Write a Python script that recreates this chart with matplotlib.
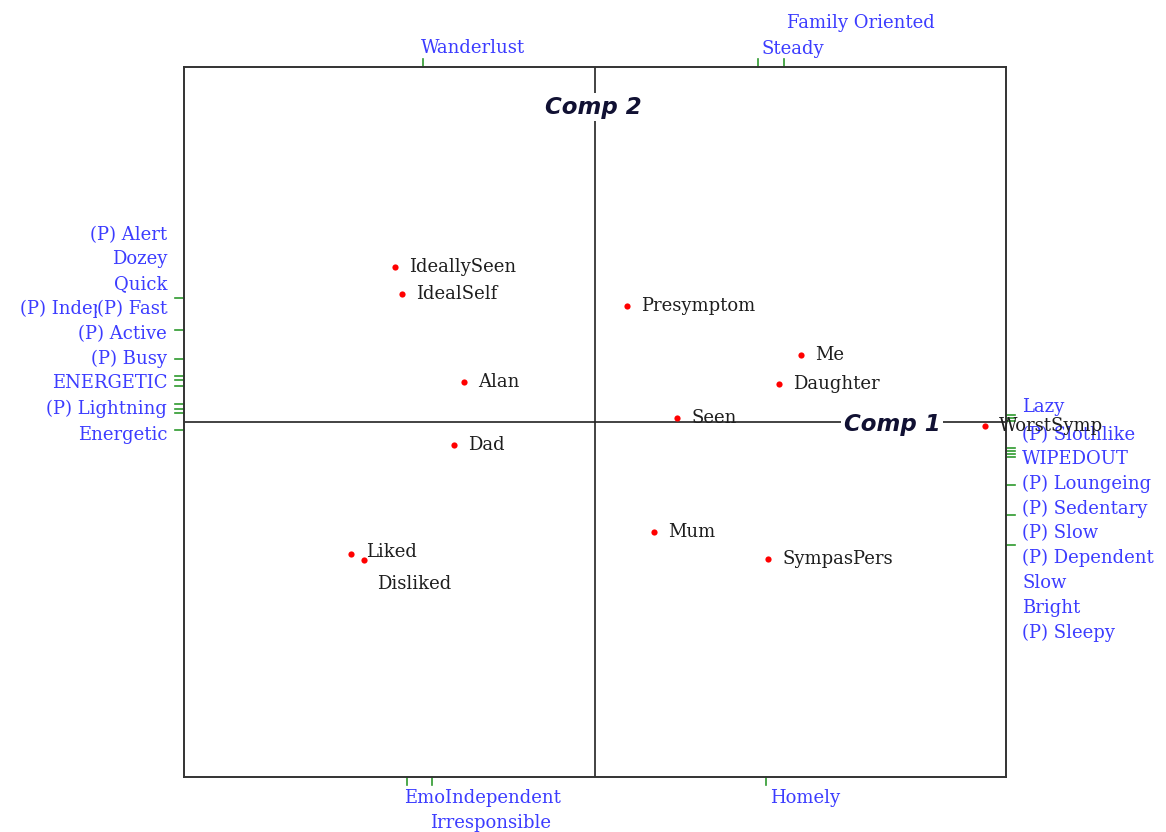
import matplotlib
matplotlib.use("Agg")
import matplotlib.pyplot as plt

# Elements (biplot points)
elements = ["IdeallySeen", "IdealSelf", "Presymptom", "Me", "Daughter", "Alan",
            "Seen", "WorstSymp", "Dad", "Mum", "SympasPers", "Liked", "Disliked"]
elem_x = [-0.487, -0.470, 0.078, 0.501, 0.448, -0.319, 0.200, 0.949, -0.343,
          0.144, 0.421, -0.594, -0.562]
elem_y = [0.437, 0.361, 0.327, 0.189, 0.107, 0.113, 0.011, -0.011, -0.065,
          -0.310, -0.386, -0.372, -0.389]

# Construct poles on the left border
left_labels = ["(P) Alert", "Dozey", "Quick", "(P) Independent", "(P) Fast",
               "(P) Active", "(P) Busy", "ENERGETIC", "(P) Lightning", "Energetic"]
left_label_y = [0.527, 0.459, 0.389, 0.318, 0.318, 0.248, 0.177, 0.110, 0.037, -0.037]
left_tick_y = [0.349, 0.259, 0.177, 0.130, 0.118, 0.101, 0.051, 0.037, 0.025, -0.023]

# Construct poles on the right border
right_labels = ["Lazy", "(P) Slothlike", "WIPEDOUT", "(P) Loungeing", "(P) Sedentary",
                "(P) Slow", "(P) Dependent", "Slow", "Bright", "(P) Sleepy"]
right_label_y = [0.042, -0.037, -0.104, -0.175, -0.245, -0.313, -0.383, -0.454,
                 -0.524, -0.594]
right_tick_y = [0.020, 0.011, 0.003, -0.073, -0.082, -0.090, -0.099, -0.177,
                -0.262, -0.346]

# Construct poles on top / bottom borders
top_labels = ["Wanderlust", "Steady", "Family Oriented"]
top_label_x = [-0.423, 0.406, 0.467]
top_label_y = [1.054, 1.051, 1.124]
top_tick_x = [-0.418, 0.397, 0.460]

bottom_labels = ["EmoIndependent", "Irresponsible", "Homely"]
bottom_label_x = [-0.465, -0.401, 0.426]
bottom_label_y = [-1.059, -1.130, -1.059]
bottom_tick_x = [-0.457, -0.397, 0.416]

blue = "#3c3cff"
green = "#2e9a2e"
txt = "#1e1e1e"
serif = "DejaVu Serif"
fs = 13

fig = plt.figure(figsize=(11.66, 8.32), dpi=100)
ax = fig.add_axes([0.1578, 0.0661, 0.705, 0.8534])
ax.set_xlim(-1, 1)
ax.set_ylim(-1, 1)
ax.set_xticks([])
ax.set_yticks([])
for s in ax.spines.values():
    s.set_color("#333333")
    s.set_linewidth(1.4)

ax.axhline(0, color="#222222", lw=1.2, zorder=1)
ax.axvline(0, color="#222222", lw=1.2, zorder=1)

# element points and labels
ax.scatter(elem_x, elem_y, s=20, color="red", marker="o", zorder=3, linewidths=0)
label_dy = {"Liked": 2, "Disliked": -24}
label_dx = {"Liked": 15, "Disliked": 13}
for name, x, y in zip(elements, elem_x, elem_y):
    ax.annotate(name, (x, y), xytext=(label_dx.get(name, 14), label_dy.get(name, 0)),
                textcoords="offset pixels", ha="left", va="center",
                fontsize=fs, family=serif, color=txt, zorder=4)

# construct ticks
tl = 0.022
for y in left_tick_y:
    ax.plot([-1, -1 - tl], [y, y], color=green, lw=1.2, clip_on=False)
for y in right_tick_y:
    ax.plot([1, 1 + tl], [y, y], color=green, lw=1.2, clip_on=False)
for x in top_tick_x:
    ax.plot([x, x], [1, 1 + tl], color=green, lw=1.2, clip_on=False)
for x in bottom_tick_x:
    ax.plot([x, x], [-1, -1 - tl], color=green, lw=1.2, clip_on=False)

# construct labels
for lab, y in zip(left_labels, left_label_y):
    bbox = None
    if lab == "(P) Fast":
        bbox = dict(facecolor="white", edgecolor="none", pad=0)
    ax.text(-1.041, y, lab, ha="right", va="center", fontsize=fs, family=serif,
            color=blue, clip_on=False, bbox=bbox)
for lab, y in zip(right_labels, right_label_y):
    ax.text(1.039, y, lab, ha="left", va="center", fontsize=fs, family=serif,
            color=blue, clip_on=False, zorder=2)
for lab, x, y in zip(top_labels, top_label_x, top_label_y):
    ax.text(x, y, lab, ha="left", va="center", fontsize=fs, family=serif,
            color=blue, clip_on=False)
for lab, x, y in zip(bottom_labels, bottom_label_x, bottom_label_y):
    ax.text(x, y, lab, ha="left", va="center", fontsize=fs, family=serif,
            color=blue, clip_on=False)

# axis names
ax.text(0.723, -0.008, "Comp 1", ha="center", va="center", fontsize=16.5,
        fontweight="bold", fontstyle="italic", color="#111133",
        bbox=dict(facecolor="white", edgecolor="none", pad=2), zorder=3)
ax.text(-0.005, 0.887, "Comp 2", ha="center", va="center", fontsize=16.5,
        fontweight="bold", fontstyle="italic", color="#111133",
        bbox=dict(facecolor="white", edgecolor="none", pad=2), zorder=3)

fig.savefig("out.png", dpi=100)
